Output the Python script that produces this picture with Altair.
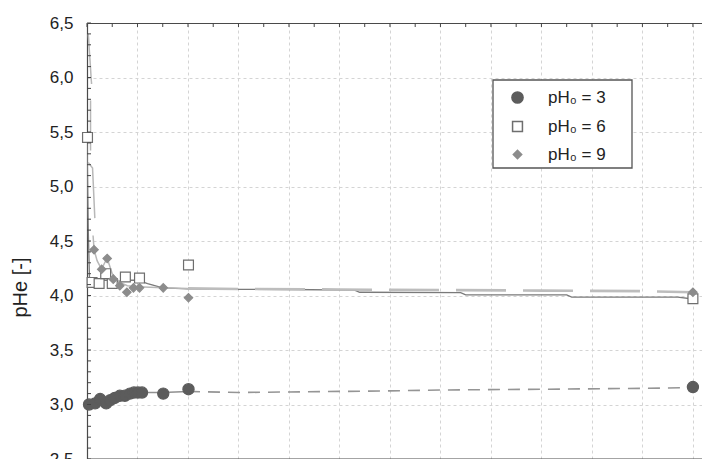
import altair as alt
import pandas as pd

# ---------------- data ----------------
labels = ["pH₀ = 3", "pH₀ = 6", "pH₀ = 9"]

# measured points (time, pHe)
t_ph3 = [0.4, 1.6, 2.6, 3.8, 4.6, 5.5, 6.5, 7.5, 8.5, 9.3, 10.1, 10.9, 15.1, 20.1, 120.0]
v_ph3 = [3.00, 3.01, 3.05, 3.01, 3.04, 3.06, 3.08, 3.08, 3.10, 3.11, 3.11, 3.11, 3.10, 3.14, 3.16]
t_ph6 = [0.1, 1.0, 2.4, 3.7, 5.0, 7.6, 10.4, 20.1, 120.0]
v_ph6 = [5.45, 4.12, 4.11, 4.20, 4.11, 4.17, 4.16, 4.28, 3.97]
t_ph9 = [1.4, 2.9, 4.0, 5.2, 6.5, 7.9, 9.2, 10.4, 15.1, 20.1, 120.0]
v_ph9 = [4.42, 4.24, 4.34, 4.15, 4.09, 4.03, 4.07, 4.07, 4.07, 3.98, 4.03]

# fitted curves as drawn
fit3_t = [0, 1, 2, 3, 4, 5, 6, 7, 8, 9, 10, 12, 15, 20, 30, 50, 60, 70, 90, 110, 120]
fit3_v = [2.99, 3.01, 3.05, 3.02, 3.04, 3.06, 3.08, 3.08, 3.10, 3.11, 3.11, 3.11, 3.11, 3.12,
          3.11, 3.12, 3.125, 3.133, 3.14, 3.148, 3.155]
fit6_t = [0, 0.25, 0.5, 1, 2, 3, 4, 5, 6, 8, 10, 12, 15, 20, 30, 40, 53, 54, 74, 75, 95, 96, 117, 120]
fit6_v = [5.45, 4.6, 4.15, 4.12, 4.12, 4.14, 4.14, 4.12, 4.13, 4.14, 4.14, 4.11, 4.07, 4.06,
          4.057, 4.055, 4.05, 4.03, 4.026, 4.005, 4.005, 3.986, 3.986, 3.968]
fit9_t = [0.25, 0.9, 0.7, 0.7, 0.25, 1.1, 1.55, 1.2, 1.4, 2.0, 2.9, 3.5, 4.0, 5, 6.5, 8, 10, 15,
          20, 30, 50, 70, 90, 110, 120]
fit9_v = [6.4, 5.94, 5.79, 5.33, 5.22, 5.17, 4.71, 4.55, 4.42, 4.32, 4.24, 4.30, 4.34, 4.2, 4.12,
          4.09, 4.08, 4.07, 4.065, 4.06, 4.055, 4.05, 4.045, 4.04, 4.03]
fit9_part = [1, 1, 2, 2, 3, 3, 3, 4, 4, 4, 4, 4, 4, 4, 4, 4, 4, 4, 4, 4, 4, 4, 4, 4, 4]

y_major = [2.5, 3.0, 3.5, 4.0, 4.5, 5.0, 5.5, 6.0, 6.5]
y_minor = [round(2.5 + 0.1 * i, 1) for i in range(41)]
x_major = [0, 10, 20, 30, 40, 50, 60, 70, 80, 90, 100, 110, 120]
x_minor = [5 * i for i in range(25)]
bottom_edge = [2.5]

# ---------------- tables ----------------
pts = pd.concat([
    pd.DataFrame({"t": t_ph3, "v": v_ph3, "s": labels[0]}),
    pd.DataFrame({"t": t_ph6, "v": v_ph6, "s": labels[1]}),
    pd.DataFrame({"t": t_ph9, "v": v_ph9, "s": labels[2]}),
], ignore_index=True)
fit3 = pd.DataFrame({"t": fit3_t, "v": fit3_v, "i": range(len(fit3_t))})
fit6 = pd.DataFrame({"t": fit6_t, "v": fit6_v, "i": range(len(fit6_t))})
fit9 = pd.DataFrame({"t": fit9_t, "v": fit9_v, "part": fit9_part, "i": range(len(fit9_t))})

FONT = "Liberation Sans"
AX = "#4a4a4a"
W = 615
xs = alt.Scale(domain=[0, 121.8], nice=False, zero=False)
ys = alt.Scale(domain=[2.5, 6.5], nice=False, zero=False)

X = alt.X("t:Q", scale=xs, axis=alt.Axis(orient="top", labels=False, ticks=False, tickSize=0,
                                        values=x_major, grid=True, gridDash=[3, 3],
                                        gridColor="#d4d4d4", domain=True, domainColor=AX,
                                        domainWidth=1.2, title=None))
Y = alt.Y("v:Q", scale=ys, axis=alt.Axis(values=y_major, ticks=False, tickSize=0, labelPadding=14,
                                        labelExpr="replace(format(datum.value, '.1f'), '.', ',')",
                                        labelFontSize=17, labelFont=FONT, labelColor="#222",
                                        grid=True, gridDash=[3, 3], gridColor="#d4d4d4",
                                        domain=True, domainColor=AX, domainWidth=1.2,
                                        title="pHe [-]", titleFont=FONT,
                                        titleFontSize=20, titleFontWeight="normal",
                                        titleColor="#222", titleAngle=270, titleX=-57, titleY=264,
                                        titleAlign="center", titleBaseline="bottom"))


def line(df, color, width, dash=None, cond=None, detail=False):
    kw = dict(color=color, strokeWidth=width, clip=True)
    if dash:
        kw["strokeDash"] = dash
    ch = alt.Chart(df).mark_line(**kw)
    if cond is not None:
        ch = ch.transform_filter(cond)
    enc = dict(x=alt.X("t:Q", scale=xs), y=alt.Y("v:Q", scale=ys), order=alt.Order("i:Q"))
    if detail:
        enc["detail"] = "part:N"
    return ch.encode(**enc)


base = alt.Chart(pts).mark_point(opacity=0).encode(x=X, y=Y)

l3a = line(fit3, "#909090", 1.5, cond=alt.datum.t <= 20)
l3b = line(fit3, "#959595", 1.6, dash=[12, 8], cond=alt.datum.t >= 20)
l6 = line(fit6, "#7a7a7a", 1.3)
l9a = line(fit9, "#b8b8b8", 1.5, cond=alt.datum.t <= 20, detail=True)
l9b = line(fit9, "#bdbdbd", 2.6, dash=[50, 17], cond=alt.datum.t >= 20, detail=True)

# legend frame (layout only)
frame = alt.Chart(pd.DataFrame({"k": [0]})).mark_rect(
    fill="white", stroke="#555", strokeWidth=1.3).encode(
    x=alt.value(406), x2=alt.value(545), y=alt.value(57), y2=alt.value(145))

leg = alt.Legend(title=None, orient="none", legendX=406, legendY=57, padding=9,
                 labelFontSize=17, labelFont=FONT,
                 labelColor="#222", symbolOffset=7, labelOffset=22,
                 rowPadding=10)
dom = labels
points = alt.Chart(pts).mark_point(filled=True, opacity=1, strokeWidth=1.2).encode(
    x=alt.X("t:Q", scale=xs),
    y=alt.Y("v:Q", scale=ys),
    shape=alt.Shape("s:N", scale=alt.Scale(domain=dom, range=["circle", "square", "diamond"]), legend=leg),
    fill=alt.Fill("s:N", scale=alt.Scale(domain=dom, range=["#5c5c5c", "#ffffff", "#8c8c8c"]), legend=leg),
    stroke=alt.Stroke("s:N", scale=alt.Scale(domain=dom, range=["#5c5c5c", "#6e6e6e", "#8c8c8c"]), legend=leg),
    size=alt.Size("s:N", scale=alt.Scale(domain=dom, range=[125, 70, 225]), legend=leg),
    order=alt.Order("s:N"),
)

ytick = alt.Chart(pd.DataFrame({"v": y_minor})).mark_rule(color="#444", strokeWidth=1).encode(
    y=alt.Y("v:Q", scale=ys), x=alt.value(0), x2=alt.value(4))
xtick = alt.Chart(pd.DataFrame({"t": x_minor})).mark_rule(color="#444", strokeWidth=1).encode(
    x=alt.X("t:Q", scale=xs), y=alt.value(0), y2=alt.value(4))
bottom = alt.Chart(pd.DataFrame({"v": bottom_edge})).mark_rule(color=AX, strokeWidth=1.2).encode(
    y=alt.Y("v:Q", scale=ys), x=alt.value(0), x2=alt.value(W))

chart = alt.layer(base, frame, l6, l9a, l9b, l3a, l3b, points, ytick, xtick, bottom).properties(
    width=W, height=436,
    padding={"left": 79, "top": 15, "right": 0, "bottom": 0},
    autosize=alt.AutoSizeParams(type="none"),
).configure_view(stroke=None).configure(background="white")

chart.save("out.html", embed_options={"renderer": "svg", "actions": False})
